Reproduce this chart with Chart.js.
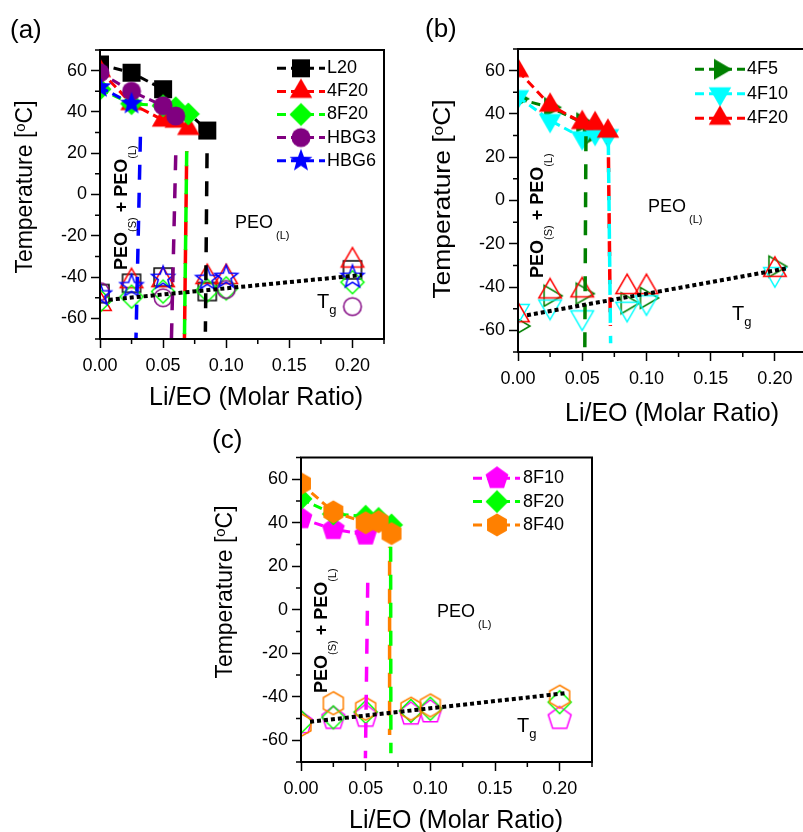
<!DOCTYPE html>
<html lang="en">
<head>
<meta charset="UTF-8">
<title>PEO / Li salt phase diagrams</title>
<script src="https://cdn.jsdelivr.net/npm/chart.js@4.4.1/dist/chart.umd.min.js"></script>
<style>
  html, body { margin: 0; padding: 0; background: #fff; overflow: hidden; width: 803px; height: 832px; }
  canvas { position: absolute; }
</style>
</head>
<body>
<canvas id="chartA" width="400" height="420" style="left:0;top:0"></canvas>
<canvas id="chartB" width="420" height="430" style="left:410px;top:0"></canvas>
<canvas id="chartC" width="410" height="412" style="left:200px;top:420px"></canvas>
<script>
const FONT = '"Liberation Sans", Arial, sans-serif';

// Li/EO ratios where Tg was measured (same for every series)
const xTg = [0, 0.025, 0.05, 0.085, 0.1, 0.2];

// melting points (filled symbols)
const xL20 = [0, 0.025, 0.05, 0.085];
const tmL20 = [63, 59, 51, 31];
const x4F20 = [0, 0.025, 0.05, 0.06, 0.07];
const tm4F20 = [60, 44, 36, 35.5, 32];
const x8F20 = [0, 0.025, 0.05, 0.06, 0.07];
const tm8F20 = [51, 44, 43, 42, 39];
const xHBG3 = [0, 0.025, 0.05, 0.06];
const tmHBG3 = [59, 50, 43, 38];
const xHBG6 = [0, 0.025];
const tmHBG6 = [52, 44];
const x4F5 = [0, 0.025, 0.05, 0.055];
const tm4F5 = [47, 43, 36, 30];
const x4F10 = [0, 0.025, 0.05, 0.06, 0.07];
const tm4F10 = [48, 37, 29, 31, 30];
const x8F10 = [0, 0.025, 0.05];
const tm8F10 = [42, 37, 34.5];
const x8F40 = [0, 0.025, 0.05, 0.06, 0.07];
const tm8F40 = [58, 45, 40, 40.5, 35];

// glass transitions (open symbols), null = no point
const tgL20 = [-48, -43, -40, -47, null, -36.5];
const tg4F20 = [-53, -42, -41.5, -40, -40, -32];
const tg8F20 = [-51.5, -49.5, -47, -46.5, -45.5, -42.5];
const tgHBG3 = [-47, null, -50, null, -46, -54.3];
const tgHBG6 = [-48.5, -44.5, -40.5, -41, -40, -40];
const tg4F5 = [-58, -44, -43, -47.5, -45, -30.5];
const tg4F10 = [-51, -49, -54, -50, -47, -34];
const tg8F10 = [-52, -50, -49, -48, -47, -50];
const tg8F40 = [-53, -43, -45.5, -45.5, -44, -40];

// vertical phase boundaries, top end -> bottom end
const aBoundNames = ['HBG6', 'HBG3', '8F20', '4F20', 'L20'];
const aBoundX1 = [0.032, 0.060, 0.0687, 0.0687, 0.0848];
const aBoundT1 = [28, 19, 21, 21, 20];
const aBoundX2 = [0.0285, 0.0566, 0.0669, 0.0669, 0.0835];
const aBoundT2 = [-70, -70, -70, -70, -66.5];

const bBoundNames = ['4F5', '4F10', '4F20'];
const bBoundX1 = [0.0529, 0.0703, 0.0703];
const bBoundT1 = [29.7, 28, 26.5];
const bBoundX2 = [0.052, 0.0721, 0.0719];
const bBoundT2 = [-70, -66, -58];

const cBoundNames = ['8F10', '8F20', '8F40'];
const cBoundX1 = [0.0516, 0.0693, 0.0685];
const cBoundT1 = [12.4, 29, 29];
const cBoundX2 = [0.0498, 0.0695, 0.0685];
const cBoundT2 = [-68.3, -66, -57.6];

// dotted Tg trend lines
const aFitX = [0.007, 0.2075];
const aFitT = [-51, -39];
const bFitX = [0.007, 0.21];
const bFitT = [-53, -31.3];
const cFitX = [0.007, 0.204];
const cFitT = [-51.5, -38.4];

// axis ticks
const xMajor = [0, 0.05, 0.1, 0.15, 0.2];
const xMinor = [0.025, 0.075, 0.125, 0.175, 0.225];
const yMajor = [-60, -40, -20, 0, 20, 40, 60];
const yMinor = [-70, -50, -30, -10, 10, 30, 50, 70];

const STY = {
  'L20':  { color: '#000000', shape: 'square' },
  '4F20': { color: '#ff0000', shape: 'tri' },
  '8F20': { color: '#00ff00', shape: 'diamond' },
  'HBG3': { color: '#800080', shape: 'circle' },
  'HBG6': { color: '#0000ff', shape: 'star' },
  '4F5':  { color: '#008000', shape: 'triRight' },
  '4F10': { color: '#00ffff', shape: 'triDown' },
  '8F10': { color: '#ff00ff', shape: 'pent' },
  '8F40': { color: '#ff8000', shape: 'hex' }
};
const SIZE = { square: 9, tri: 13, triDown: 13, triRight: 12, diamond: 11.5, circle: 9.5, star: 12, pent: 12, hex: 11.5 };

function pts(xs, ys) {
  return xs.map((x, i) => ({ x: x, y: ys[i] }));
}

// symbols drawn on small canvases so stars / pentagons / hexagons are possible
const markerCache = {};
function marker(shape, color, filled) {
  const key = shape + color + filled;
  if (markerCache[key]) return markerCache[key];
  const r = SIZE[shape];
  const n = 2 * Math.ceil(r + 2);
  const c = document.createElement('canvas');
  c.width = c.height = n;
  const g = c.getContext('2d');
  g.translate(n / 2, n / 2);
  g.beginPath();
  if (shape === 'circle') {
    g.arc(0, 0, filled ? r : r - 0.7, 0, Math.PI * 2);
  } else if (shape === 'square') {
    g.rect(-r, -r, 2 * r, 2 * r);
  } else {
    const def = { tri: [3, -90], triDown: [3, 90], triRight: [3, 0], diamond: [4, -90],
                  pent: [5, -90], hex: [6, -90], star: [10, -90] }[shape];
    for (let i = 0; i < def[0]; i++) {
      const rr = (shape === 'star' && i % 2) ? r * 0.42 : r;
      const ang = (def[1] + i * 360 / def[0]) * Math.PI / 180;
      g.lineTo(rr * Math.cos(ang), rr * Math.sin(ang));
    }
    g.closePath();
  }
  if (filled) { g.fillStyle = color; g.fill(); }
  else { g.strokeStyle = color; g.lineWidth = 1.5; g.stroke(); }
  markerCache[key] = c;
  return c;
}

function buildDatasets(series, bNames, bx1, bt1, bx2, bt2, bOffs, fitX, fitT) {
  const ds = [];
  ds.push({ data: pts(fitX, fitT), borderColor: '#000', borderWidth: 4, borderDash: [4, 3], pointRadius: 0 });
  bNames.forEach((nm, i) => {
    ds.push({
      data: [{ x: bx1[i], y: bt1[i] }, { x: bx2[i], y: bt2[i] }],
      borderColor: STY[nm].color, borderWidth: 3.5, borderDash: [15, 13], borderDashOffset: bOffs[i],
      pointRadius: 0
    });
  });
  series.slice().reverse().forEach(s => {
    const st = STY[s[0]];
    ds.push({
      data: pts(s[1], s[2]), borderColor: st.color, borderWidth: 3, borderDash: [9, 5],
      pointStyle: marker(st.shape, st.color, true), pointRadius: SIZE[st.shape]
    });
  });
  series.slice().reverse().forEach(s => {
    const st = STY[s[0]];
    ds.push({
      data: pts(xTg, s[3]), showLine: false, borderColor: st.color,
      pointStyle: marker(st.shape, st.color, false), pointRadius: SIZE[st.shape]
    });
  });
  return ds;
}

// page decoration per canvas (canvas pixel coordinates)
const PANELS = {
  chartA: { tag: '(a)', tagX: 10, tagY: 38, ytX: 32, ytY: 187, ytStretch: 1, xtX: 256, xtY: 405,
            legend: ['L20', '4F20', '8F20', 'HBG3', 'HBG6'], lgL: 277, lgR: 325, lgM: 301, lgT: 327, lgY: 68.3, lgDy: 23.1,
            vtX: 126.5, vtY: 270, peoX: 235, peoY: 228, tgX: 317, tgY: 308 },
  chartB: { tag: '(b)', tagX: 15, tagY: 36.5, ytX: 40, ytY: 199, ytStretch: 1.15, xtX: 262, xtY: 421,
            legend: ['4F5', '4F10', '4F20'], lgL: 285, lgR: 335, lgM: 310, lgT: 337, lgY: 69.3, lgDy: 24.5,
            vtX: 133, vtY: 278, peoX: 238, peoY: 212, tgX: 322, tgY: 320 },
  chartC: { tag: '(c)', tagX: 12, tagY: 27.5, ytX: 32, ytY: 172, ytStretch: 1, xtX: 256, xtY: 408,
            legend: ['8F10', '8F20', '8F40'], lgL: 273, lgR: 320, lgM: 297, lgT: 323, lgY: 58.3, lgDy: 23.3,
            vtX: 127, vtY: 273, peoX: 237, peoY: 197, tgX: 317, tgY: 312 }
};

function runs(ctx, x, y, items) {
  items.forEach(it => {
    ctx.font = (it.b ? 'bold ' : '') + it.s + 'px ' + FONT;
    ctx.fillText(it.t, x, y + (it.dy || 0));
    x += ctx.measureText(it.t).width;
  });
  return x;
}
function runsWidth(ctx, items) {
  let w = 0;
  items.forEach(it => {
    ctx.font = (it.b ? 'bold ' : '') + it.s + 'px ' + FONT;
    w += ctx.measureText(it.t).width;
  });
  return w;
}

const decoPlugin = {
  id: 'deco',
  afterDraw(chart) {
    const d = PANELS[chart.canvas.id];
    const ctx = chart.ctx, a = chart.chartArea;
    const xs = chart.scales.x, ys = chart.scales.y;
    ctx.save();
    ctx.strokeStyle = '#000';
    ctx.lineWidth = 2;
    ctx.strokeRect(a.left, a.top, a.right - a.left, a.bottom - a.top);
    // minor ticks
    ctx.lineWidth = 1.5;
    ctx.beginPath();
    xMinor.forEach(v => { const p = xs.getPixelForValue(v); ctx.moveTo(p, a.bottom); ctx.lineTo(p, a.bottom + 5); });
    yMinor.forEach(v => { const p = ys.getPixelForValue(v); ctx.moveTo(a.left, p); ctx.lineTo(a.left - 5, p); });
    ctx.stroke();

    ctx.fillStyle = '#000';
    ctx.textBaseline = 'alphabetic';
    ctx.textAlign = 'left';
    ctx.font = '26px ' + FONT;
    ctx.fillText(d.tag, d.tagX, d.tagY);

    // axis titles
    ctx.font = '25px ' + FONT;
    ctx.textAlign = 'center';
    ctx.fillText('Li/EO (Molar Ratio)', d.xtX, d.xtY);
    ctx.textAlign = 'left';
    const yt = [{ t: 'Temperature [', s: 23 }, { t: 'o', s: 15, dy: -7 }, { t: 'C]', s: 23 }];
    ctx.save();
    ctx.translate(d.ytX, d.ytY);
    ctx.rotate(-Math.PI / 2);
    ctx.scale(d.ytStretch, 1);
    runs(ctx, -runsWidth(ctx, yt) / 2, 0, yt);
    ctx.restore();

    // region labels
    ctx.save();
    ctx.translate(d.vtX, d.vtY);
    ctx.rotate(-Math.PI / 2);
    runs(ctx, 0, 0, [{ t: 'PEO', s: 18, b: true }, { t: '(S)', s: 11, dy: 9 }, { t: ' + ', s: 18, b: true },
                     { t: 'PEO', s: 18, b: true }, { t: '(L)', s: 11, dy: 9 }]);
    ctx.restore();
    runs(ctx, d.peoX, d.peoY, [{ t: 'PEO', s: 18 }, { t: ' (L)', s: 11, dy: 11 }]);
    runs(ctx, d.tgX, d.tgY, [{ t: 'T', s: 20 }, { t: 'g', s: 13, dy: 6 }]);

    // legend: dashed line with symbol
    d.legend.forEach((nm, i) => {
      const st = STY[nm];
      const y = d.lgY + i * d.lgDy;
      ctx.strokeStyle = st.color;
      ctx.lineWidth = 3;
      ctx.setLineDash([9, 5]);
      ctx.beginPath();
      ctx.moveTo(d.lgL, y);
      ctx.lineTo(d.lgR, y);
      ctx.stroke();
      ctx.setLineDash([]);
      const m = marker(st.shape, st.color, true);
      ctx.drawImage(m, d.lgM - m.width / 2, y - m.height / 2);
      ctx.fillStyle = '#000';
      ctx.font = '18px ' + FONT;
      ctx.textBaseline = 'middle';
      ctx.fillText(nm, d.lgT, y);
      ctx.textBaseline = 'alphabetic';
    });
    ctx.restore();
  }
};

function makeChart(id, datasets, pad, yW, xH) {
  return new Chart(document.getElementById(id), {
    type: 'line',
    data: { datasets: datasets },
    options: {
      responsive: false,
      animation: false,
      events: [],
      layout: { padding: pad },
      plugins: { legend: { display: false }, tooltip: { enabled: false } },
      scales: {
        x: {
          type: 'linear', min: 0, max: 0.225,
          afterBuildTicks: s => { s.ticks = xMajor.map(v => ({ value: v })); },
          afterFit: s => { s.height = xH; },
          ticks: { callback: v => v.toFixed(2), color: '#000', font: { family: FONT, size: 18 },
                   padding: 7, maxRotation: 0, autoSkip: false },
          grid: { drawOnChartArea: false, tickLength: 9, tickWidth: 1.5, tickColor: '#000' },
          border: { color: '#000', width: 2 }
        },
        y: {
          type: 'linear', min: -70, max: 70,
          afterBuildTicks: s => { s.ticks = yMajor.map(v => ({ value: v })); },
          afterFit: s => { s.width = yW; },
          ticks: { callback: v => String(v), color: '#000', font: { family: FONT, size: 18 }, padding: 4 },
          grid: { drawOnChartArea: false, tickLength: 9, tickWidth: 1.5, tickColor: '#000' },
          border: { color: '#000', width: 2 }
        }
      }
    },
    plugins: [decoPlugin]
  });
}

const seriesA = [
  ['L20', xL20, tmL20, tgL20],
  ['4F20', x4F20, tm4F20, tg4F20],
  ['8F20', x8F20, tm8F20, tg8F20],
  ['HBG3', xHBG3, tmHBG3, tgHBG3],
  ['HBG6', xHBG6, tmHBG6, tgHBG6]
];
const seriesB = [
  ['4F5', x4F5, tm4F5, tg4F5],
  ['4F10', x4F10, tm4F10, tg4F10],
  ['4F20', x4F20, tm4F20, tg4F20]
];
const seriesC = [
  ['8F10', x8F10, tm8F10, tg8F10],
  ['8F20', x8F20, tm8F20, tg8F20],
  ['8F40', x8F40, tm8F40, tg8F40]
];

makeChart('chartA',
  buildDatasets(seriesA, aBoundNames, aBoundX1, aBoundT1, aBoundX2, aBoundT2, [0, 0, 0, 14, 0], aFitX, aFitT),
  { left: 0, top: 50, right: 11, bottom: 0 }, 100, 81);
makeChart('chartB',
  buildDatasets(seriesB, bBoundNames, bBoundX1, bBoundT1, bBoundX2, bBoundT2, [0, 0, 14], bFitX, bFitT),
  { left: 0, top: 49, right: 23, bottom: 0 }, 108, 78);
makeChart('chartC',
  buildDatasets(seriesC, cBoundNames, cBoundX1, cBoundT1, cBoundX2, cBoundT2, [0, 0, 14], cFitX, cFitT),
  { left: 0, top: 37.5, right: 18, bottom: 0 }, 101, 70);
</script>
</body>
</html>
